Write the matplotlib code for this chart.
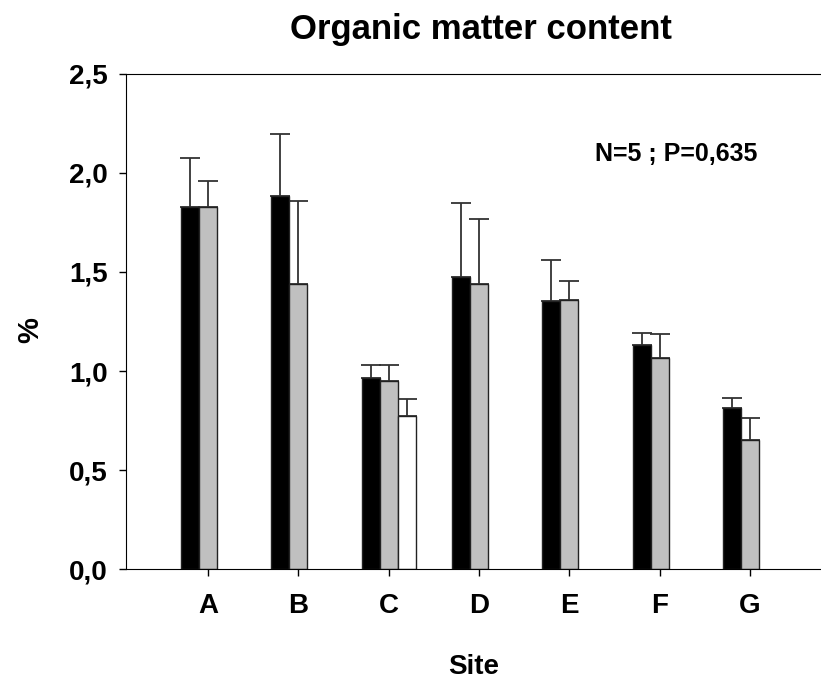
import numpy as np
import matplotlib
matplotlib.use("Agg")
import matplotlib.pyplot as plt

sites = ['A', 'B', 'C', 'D', 'E', 'F', 'G']

# means and upper error (mean + sd)
black_mean = [1.83, 1.885, 0.963, 1.476, 1.354, 1.131, 0.813]
black_top = [2.076, 2.199, 1.032, 1.847, 1.559, 1.193, 0.865]
gray_mean = [1.828, 1.438, 0.949, 1.438, 1.359, 1.064, 0.652]
gray_top = [1.961, 1.86, 1.03, 1.769, 1.456, 1.188, 0.761]
white_mean = [np.nan, np.nan, 0.773, np.nan, np.nan, np.nan, np.nan]
white_top = [np.nan, np.nan, 0.859, np.nan, np.nan, np.nan, np.nan]

plt.rcParams['font.family'] = ['Liberation Sans', 'DejaVu Sans']
plt.rcParams['font.weight'] = 'bold'

fig = plt.figure(figsize=(8.21, 6.85), dpi=100)
ax = fig.add_axes([0.1535, 0.1693, 0.8465, 0.7227])

x = np.arange(1, len(sites) + 1)
w = 0.2
series = [(black_mean, black_top, 'black', -w),
          (gray_mean, gray_top, '#c0c0c0', 0),
          (white_mean, white_top, 'white', w)]

for mean, top, col, off in series:
    mean = np.array(mean, dtype=float)
    err = np.array(top, dtype=float) - mean
    ok = ~np.isnan(mean)
    ax.bar(x[ok] + off, mean[ok], width=w, color=col, edgecolor='#222222',
           linewidth=1.0, zorder=2)
    ax.errorbar(x[ok] + off, mean[ok], yerr=[np.zeros(ok.sum()), err[ok]],
                fmt='none', ecolor='#333333', elinewidth=1.3, capsize=7,
                capthick=1.3, zorder=1)

ax.set_xlim(0.092, 7.786)
ax.set_ylim(0, 2.5)
ax.set_xticks(x)
ax.set_xticklabels(sites)
ax.set_yticks([0, 0.5, 1.0, 1.5, 2.0, 2.5])
ax.set_yticklabels(['0,0', '0,5', '1,0', '1,5', '2,0', '2,5'])
ax.tick_params(axis='both', labelsize=20, direction='out', length=5, width=1)
ax.tick_params(axis='x', pad=12)
ax.tick_params(axis='y', pad=8)
ax.spines['right'].set_visible(False)

fig.text(0.586, 0.957, 'Organic matter content', fontsize=25,
         fontweight='bold', ha='center', va='center')
ax.set_xlabel('Site', fontsize=20, fontweight='bold')
ax.xaxis.set_label_coords(0.5, -0.172)
ax.set_ylabel('%', fontsize=21, fontweight='bold')
ax.yaxis.set_label_coords(-0.117, 0.483)
ax.text(0.909, 0.838, 'N=5 ; P=0,635', transform=ax.transAxes, fontsize=18,
        fontweight='bold', ha='right', va='center')

plt.savefig('out.png', dpi=100)
